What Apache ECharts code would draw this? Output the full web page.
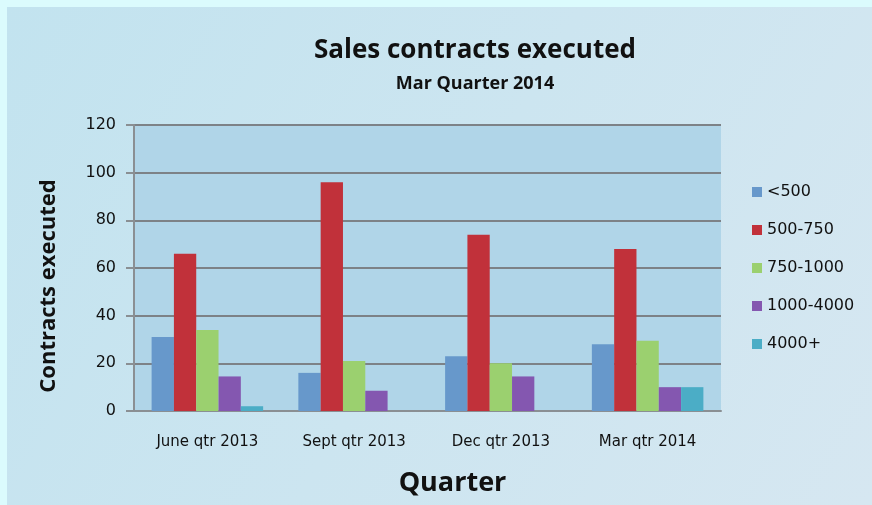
<!DOCTYPE html>
<html>
<head>
<meta charset="utf-8">
<script src="https://cdn.jsdelivr.net/npm/echarts@6/dist/echarts.min.js"></script>
<style>
  html, body { margin: 0; padding: 0; background: #dbfbfd; }
  #chart { width: 872px; height: 505px; }
</style>
</head>
<body>
<div id="chart"></div>
<script>
// quarters on the x axis
const quarters = ["June qtr 2013", "Sept qtr 2013", "Dec qtr 2013", "Mar qtr 2014"];
// contract size bands (legend)
const bands = ["<500", "500-750", "750-1000", "1000-4000", "4000+"];
const under500 = [31, 16, 23, 28];
const from500to750 = [66, 96, 74, 68];
const from750to1000 = [34, 21, 20, 29.5];
const from1000to4000 = [14.5, 8.5, 14.5, 10];
const over4000 = [2, 0, 0, 10];
const yTicks = [0, 20, 40, 60, 80, 100, 120];

const bandColors = ["#6798cb", "#c1313a", "#9bd06f", "#8457b0", "#4badc6"];
const seriesData = [under500, from500to750, from750to1000, from1000to4000, over4000];

const chart = echarts.init(document.getElementById("chart"));

const font = "'Open Sans', 'Noto Sans', sans-serif";
const labelFont = "'DejaVu Sans', sans-serif";

let option = {
  backgroundColor: "#dbfbfd",
  color: bandColors,
  animation: false,
  graphic: [
    {
      type: "rect",
      z: -10,
      shape: { x: 7, y: 7, width: 865, height: 498 },
      style: {
        fill: new echarts.graphic.LinearGradient(0, 0, 1, 1, [
          { offset: 0, color: "#c2e3ef" },
          { offset: 1, color: "#d6e7f1" }
        ])
      }
    }
  ],
  title: {
    text: "Sales contracts executed",
    subtext: "Mar Quarter 2014",
    left: 470,
    textAlign: "center",
    top: 33,
    itemGap: 11,
    textStyle: { fontFamily: font, fontSize: 26, fontWeight: "bold", color: "#111" },
    subtextStyle: { fontFamily: font, fontSize: 18, fontWeight: "bold", color: "#111" }
  },
  legend: {
    orient: "vertical",
    left: 747,
    top: 179,
    itemWidth: 10,
    itemHeight: 10,
    itemGap: 22,
    icon: "rect",
    data: bands,
    textStyle: { fontFamily: labelFont, fontSize: 16, color: "#111" }
  },
  grid: {
    left: 134,
    right: 151,
    top: 125,
    bottom: 94,
    show: true,
    backgroundColor: "#b0d5e8",
    borderWidth: 0
  },
  xAxis: {
    type: "category",
    data: quarters,
    name: "Quarter",
    nameLocation: "middle",
    nameGap: 59,
    nameTextStyle: {
      fontFamily: font, fontSize: 27, fontWeight: "bold", color: "#111",
      padding: [0, 0, 0, 50]
    },
    axisLine: { lineStyle: { color: "#8a8f93", width: 2 } },
    axisTick: { show: false },
    axisLabel: { fontFamily: labelFont, fontSize: 15, color: "#111", margin: 24 }
  },
  yAxis: {
    type: "value",
    min: yTicks[0],
    max: yTicks[yTicks.length - 1],
    interval: 20,
    name: "Contracts executed",
    nameLocation: "middle",
    nameGap: 74,
    nameTextStyle: {
      fontFamily: font, fontSize: 22, fontWeight: "bold", color: "#111",
      padding: [0, 36, 0, 0]
    },
    axisLine: { show: true, lineStyle: { color: "#8a8f93", width: 2 } },
    axisTick: { show: true, length: 8, lineStyle: { color: "#8a8f93", width: 2 } },
    axisLabel: { fontFamily: labelFont, fontSize: 16, color: "#111", margin: 18 },
    splitLine: { lineStyle: { color: "#7d8287", width: 2 } }
  },
  series: bands.map((name, i) => ({
    name: name,
    type: "bar",
    data: seriesData[i],
    barGap: "0%",
    barCategoryGap: "24%",
    itemStyle: { color: bandColors[i] }
  }))
};

chart.setOption(option);
</script>
</body>
</html>
